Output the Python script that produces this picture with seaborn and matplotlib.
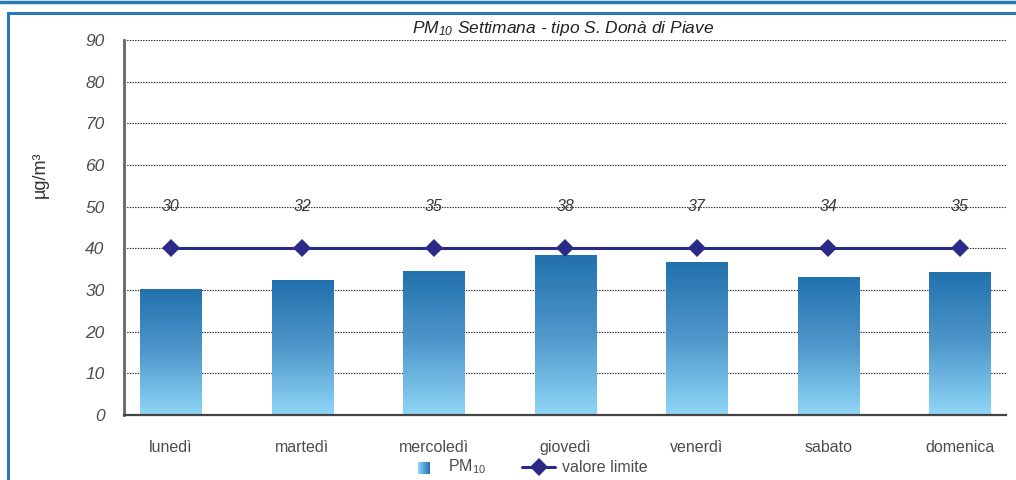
import numpy as np
import pandas as pd
import matplotlib
matplotlib.use("Agg")
import matplotlib.pyplot as plt
import seaborn as sns
from matplotlib.patches import Rectangle
from matplotlib.lines import Line2D
from matplotlib.colors import LinearSegmentedColormap

# Weekly PM10 profile
giorni = ["lunedì", "martedì", "mercoledì", "giovedì", "venerdì", "sabato", "domenica"]
pm10 = [30.3, 32.4, 34.6, 38.5, 36.8, 33.2, 34.4]
etichette = [30, 32, 35, 38, 37, 34, 35]
valore_limite = [40, 40, 40, 40, 40, 40, 40]
y_ticks = [0, 10, 20, 30, 40, 50, 60, 70, 80, 90]

sns.set_theme(style="white")
plt.rcParams["font.family"] = ["Liberation Sans", "DejaVu Sans"]
plt.rcParams["mathtext.default"] = "regular"

GRAY = "#4d4d4d"
NAVY = "#2b2a86"
FRAME = "#2a78b8"
grad_cmap = LinearSegmentedColormap.from_list("pm", ["#8fd6f7", "#4f97cb", "#2171ad"])

fig = plt.figure(figsize=(10.16, 4.80), dpi=100)
ax = fig.add_axes([124 / 1016, 1 - 415 / 480, (1006 - 124) / 1016, (415 - 40) / 480])

df = pd.DataFrame({"giorno": giorni, "pm10": pm10, "limite": valore_limite})
sns.barplot(data=df, x="giorno", y="pm10", ax=ax, width=0.464, color="#2171ad",
            edgecolor="none", linewidth=0, zorder=2)

# replace flat fill with a vertical gradient clipped to each bar
grad = np.linspace(0, 1, 256).reshape(-1, 1)
for bar in ax.patches:
    x0, y0 = bar.get_x(), bar.get_y()
    w, h = bar.get_width(), bar.get_height()
    bar.set_facecolor("none")
    im = ax.imshow(grad, cmap=grad_cmap, aspect="auto", origin="lower",
                   extent=[x0, x0 + w, y0, y0 + h], zorder=2, interpolation="bilinear")
    im.set_clip_path(bar)

sns.lineplot(data=df, x="giorno", y="limite", ax=ax, color=NAVY, linewidth=2.2,
             marker="D", markersize=9, markeredgewidth=0, zorder=4, sort=False)

for i, v in enumerate(etichette):
    ax.text(i, 50, str(v), ha="center", va="center", fontsize=11.5, style="italic",
            color="#3a3a3a", zorder=5)

ax.set_xlim(-0.357, 6.35)
ax.set_ylim(0, 90)
ax.set_yticks(y_ticks)
ax.set_yticklabels([str(t) for t in y_ticks], fontsize=12.5, style="italic", color=GRAY)
ax.set_xticks(range(len(giorni)))
ax.set_xticklabels(giorni, fontsize=11.5, color=GRAY)
ax.tick_params(axis="x", length=0, pad=18)
ax.tick_params(axis="y", length=0, pad=14)
ax.set_xlabel("")
ax.set_ylabel("µg/m³", fontsize=13, color="#333333")
ax.yaxis.set_label_coords(-0.085, 0.64)

for t in y_ticks:
    ax.axhline(t, color="#222222", linestyle=(0, (1.2, 1.2)), linewidth=0.8, zorder=1)

for s in ["top", "right"]:
    ax.spines[s].set_visible(False)
ax.spines["left"].set_color("#666666")
ax.spines["left"].set_linewidth(2)
ax.spines["bottom"].set_color("#444444")
ax.spines["bottom"].set_linewidth(1.6)
ax.spines["bottom"].set_zorder(6)

fig.text(563 / 1016, 1 - 29 / 480, "PM$_{10}$ Settimana - tipo S. Donà di Piave",
         ha="center", va="center", fontsize=12.5, style="italic", color="#222222")

# legend
lax = fig.add_axes([418 / 1016, 1 - 474 / 480, 12 / 1016, 12 / 480])
lax.imshow(np.linspace(0, 1, 64).reshape(1, -1), cmap=LinearSegmentedColormap.from_list(
    "lg", ["#8fd6f7", "#2171ad"]), aspect="auto")
lax.set_axis_off()
fig.text(448 / 1016, 1 - 467 / 480, "PM$_{10}$", ha="left", va="center",
         fontsize=11.5, color=GRAY)
fig.add_artist(Line2D([522 / 1016, 555 / 1016], [1 - 467 / 480, 1 - 467 / 480],
                      color=NAVY, linewidth=2.2, transform=fig.transFigure))
fig.add_artist(Line2D([538.5 / 1016], [1 - 467 / 480], color=NAVY, marker="D",
                      markersize=9, markeredgewidth=0, linestyle="none",
                      transform=fig.transFigure))
fig.text(562 / 1016, 1 - 467 / 480, "valore limite", ha="left", va="center",
         fontsize=11.5, color=GRAY)

# outer frame
fig.add_artist(Line2D([0, 1], [1 - 1.5 / 480, 1 - 1.5 / 480], color=FRAME,
                      linewidth=2.5, transform=fig.transFigure))
fig.add_artist(Rectangle((8 / 1016, -0.1), 1.2, 1.1 - 13 / 480, fill=False,
                         edgecolor=FRAME, linewidth=2.2, transform=fig.transFigure))

fig.savefig("out.png", dpi=100)
